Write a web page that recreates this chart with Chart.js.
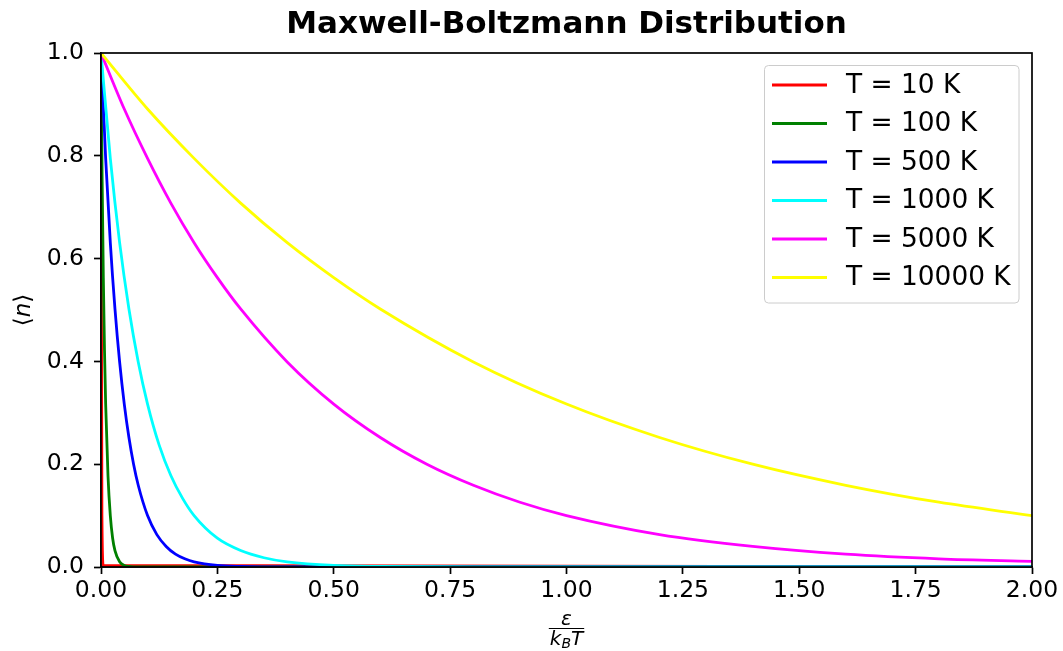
<!DOCTYPE html>
<html>
<head>
<meta charset="utf-8">
<script src="https://cdn.jsdelivr.net/npm/chart.js@4.4.1/dist/chart.umd.min.js"></script>
<style>
  html, body { margin: 0; padding: 0; background: #fff; }
  #wrap { width: 1063px; height: 651px; }
</style>
</head>
<body>
<div id="wrap"><canvas id="mb" width="1063" height="651"></canvas></div>
<script>
// ─── Data ────────────────────────────────────────────────────────────────────

const labels = ['T = 10 K', 'T = 100 K', 'T = 500 K', 'T = 1000 K', 'T = 5000 K', 'T = 10000 K'];
const colors = ['#ff0000', '#008000', '#0000ff', '#00ffff', '#ff00ff', '#ffff00'];

// x = ε / k_B T, y = <n>
const x10    = [0, 0.002, 0.005, 2];
const n10    = [1, 0.100, 0.003, 0];

const x100   = [0, 0.0025, 0.005, 0.0075, 0.01, 0.015, 0.02, 0.025, 0.03, 0.04, 0.05, 0.06, 0.08, 2];
const n100   = [1, 0.750, 0.563, 0.422, 0.317, 0.178, 0.100, 0.056, 0.032, 0.010, 0.003, 0.001, 0, 0];

const x500   = [0, 0.01, 0.02, 0.03, 0.04, 0.05, 0.06, 0.07, 0.08, 0.1, 0.12, 0.14, 0.16, 0.18, 0.2, 0.25, 0.3, 0.4, 2];
const n500   = [1, 0.795, 0.631, 0.502, 0.399, 0.317, 0.252, 0.200, 0.159, 0.100, 0.063, 0.040, 0.025, 0.016, 0.010, 0.003, 0.001, 0, 0];

const x1000  = [0, 0.02, 0.04, 0.06, 0.08, 0.1, 0.125, 0.15, 0.175, 0.2, 0.25, 0.3, 0.35, 0.4, 0.5, 0.6, 0.8, 2];
const n1000  = [1, 0.795, 0.631, 0.502, 0.399, 0.317, 0.237, 0.178, 0.134, 0.100, 0.056, 0.032, 0.018, 0.010, 0.003, 0.001, 0, 0];

const x5000  = [0, 0.05, 0.1, 0.15, 0.2, 0.25, 0.3, 0.4, 0.5, 0.6, 0.7, 0.8, 0.9, 1.0, 1.2, 1.4, 1.6, 1.8, 2.0];
const n5000  = [1, 0.891, 0.795, 0.708, 0.631, 0.563, 0.502, 0.399, 0.317, 0.252, 0.200, 0.159, 0.126, 0.100, 0.063, 0.040, 0.025, 0.016, 0.011];

const x10000 = [0, 0.1, 0.2, 0.3, 0.4, 0.5, 0.6, 0.8, 1.0, 1.2, 1.4, 1.6, 1.8, 2.0];
const n10000 = [1, 0.891, 0.795, 0.708, 0.631, 0.563, 0.502, 0.399, 0.317, 0.252, 0.200, 0.159, 0.126, 0.100];

const xTicks = [0, 0.25, 0.5, 0.75, 1.0, 1.25, 1.5, 1.75, 2.0];
const yTicks = [0, 0.2, 0.4, 0.6, 0.8, 1.0];

const series = [[x10, n10], [x100, n100], [x500, n500], [x1000, n1000], [x5000, n5000], [x10000, n10000]];

// ─── Chart ───────────────────────────────────────────────────────────────────

const FONT = "'DejaVu Sans', sans-serif";

const datasets = series.map(([xs, ys], i) => ({
    label:        labels[i],
    data:         xs.map((x, j) => ({ x, y: ys[j] })),
    borderColor:  colors[i],
    borderWidth:  2.8,
    pointRadius:  0,
    fill:         false,
    cubicInterpolationMode: 'monotone',
    order:        series.length - i,   // later series on top, like matplotlib
    clip:         0,
}));

const frame = {
    id: 'frame',
    afterDraw(chart) {
        const { ctx, chartArea: a } = chart;
        ctx.save();

        // axes box
        ctx.strokeStyle = '#000';
        ctx.lineWidth   = 1.7;
        ctx.strokeRect(a.left, a.top, a.right - a.left, a.bottom - a.top);

        // title
        ctx.fillStyle    = '#000';
        ctx.textAlign    = 'center';
        ctx.textBaseline = 'alphabetic';
        ctx.font = `bold 31px ${FONT}`;
        ctx.fillText('Maxwell-Boltzmann Distribution', (a.left + a.right) / 2, 33);

        // y label  ⟨n⟩
        ctx.save();
        ctx.translate(30, (a.top + a.bottom) / 2);
        ctx.rotate(-Math.PI / 2);
        ctx.textAlign = 'left';
        ctx.font = `23px ${FONT}`;
        const wl = ctx.measureText('\u27E8').width;
        const wr = ctx.measureText('\u27E9').width;
        ctx.font = `italic 23px ${FONT}`;
        const wn = ctx.measureText('n').width;
        const x0 = -(wl + wn + wr) / 2;
        ctx.font = `23px ${FONT}`;
        ctx.fillText('\u27E8', x0, 0);
        ctx.font = `italic 23px ${FONT}`;
        ctx.fillText('n', x0 + wl, 0);
        ctx.font = `23px ${FONT}`;
        ctx.fillText('\u27E9', x0 + wl + wn, 0);
        ctx.restore();

        // x label  ε / (k_B T)
        const cx = (a.left + a.right) / 2;
        ctx.textAlign = 'center';
        ctx.font = `italic 20px ${FONT}`;
        ctx.fillText('\u03B5', cx, 625);

        ctx.font = `italic 20px ${FONT}`;
        const wk = ctx.measureText('k').width;
        const wt = ctx.measureText('T').width;
        ctx.font = `italic 14px ${FONT}`;
        const wb = ctx.measureText('B').width;
        const w  = wk + wb + wt;
        const xs = cx - w / 2;
        ctx.textAlign = 'left';
        ctx.font = `italic 20px ${FONT}`;
        ctx.fillText('k', xs, 645);
        ctx.font = `italic 14px ${FONT}`;
        ctx.fillText('B', xs + wk, 648);
        ctx.font = `italic 20px ${FONT}`;
        ctx.fillText('T', xs + wk + wb, 645);

        ctx.lineWidth = 1;
        ctx.beginPath();
        ctx.moveTo(cx - w / 2 - 1, 628.5);
        ctx.lineTo(cx + w / 2 + 1, 628.5);
        ctx.stroke();

        // legend
        const lx = 764.5, ly = 65.5, lw = 254.5, lh = 237.5, r = 4;
        ctx.beginPath();
        ctx.moveTo(lx + r, ly);
        ctx.arcTo(lx + lw, ly, lx + lw, ly + lh, r);
        ctx.arcTo(lx + lw, ly + lh, lx, ly + lh, r);
        ctx.arcTo(lx, ly + lh, lx, ly, r);
        ctx.arcTo(lx, ly, lx + lw, ly, r);
        ctx.closePath();
        ctx.fillStyle = 'rgba(255,255,255,0.8)';
        ctx.fill();
        ctx.strokeStyle = '#cccccc';
        ctx.lineWidth = 1;
        ctx.stroke();

        ctx.font = `26.4px ${FONT}`;
        ctx.textBaseline = 'middle';
        labels.forEach((lab, i) => {
            const y = 85 + i * 38.5;
            ctx.strokeStyle = colors[i];
            ctx.lineWidth = 2.8;
            ctx.beginPath();
            ctx.moveTo(772, y);
            ctx.lineTo(827, y);
            ctx.stroke();
            ctx.fillStyle = '#000';
            ctx.fillText(lab, 846, y + 1);
        });

        ctx.restore();
    },
};

new Chart(document.getElementById('mb'), {
    type: 'line',
    data: { datasets },
    options: {
        responsive: false,
        animation: false,
        devicePixelRatio: 1,
        layout: { padding: { top: 53, right: 31, left: 0, bottom: 0 } },
        plugins: {
            legend:  { display: false },
            title:   { display: false },
            tooltip: { enabled: false },
        },
        scales: {
            x: {
                type: 'linear',
                min: 0,
                max: 2,
                afterFit(s) { s.height = 84; },
                afterBuildTicks(s) { s.ticks = xTicks.map(v => ({ value: v })); },
                ticks: {
                    color: '#000',
                    font: { size: 23.5, family: FONT },
                    padding: 3,
                    maxRotation: 0,
                    autoSkip: false,
                    callback: v => v.toFixed(2),
                },
                grid:   { drawOnChartArea: false, drawTicks: true, tickLength: 7, color: '#000', tickWidth: 1.7 },
                border: { display: true, color: '#000', width: 1.7 },
            },
            y: {
                type: 'linear',
                min: 0,
                max: 1,
                afterFit(s) { s.width = 101; },
                afterBuildTicks(s) { s.ticks = yTicks.map(v => ({ value: v })); },
                ticks: {
                    color: '#000',
                    font: { size: 23.5, family: FONT },
                    padding: 10,
                    autoSkip: false,
                    callback: v => v.toFixed(1),
                },
                grid:   { drawOnChartArea: false, drawTicks: true, tickLength: 7, color: '#000', tickWidth: 1.7 },
                border: { display: true, color: '#000', width: 1.7 },
            },
        },
    },
    plugins: [frame],
});
</script>
</body>
</html>
